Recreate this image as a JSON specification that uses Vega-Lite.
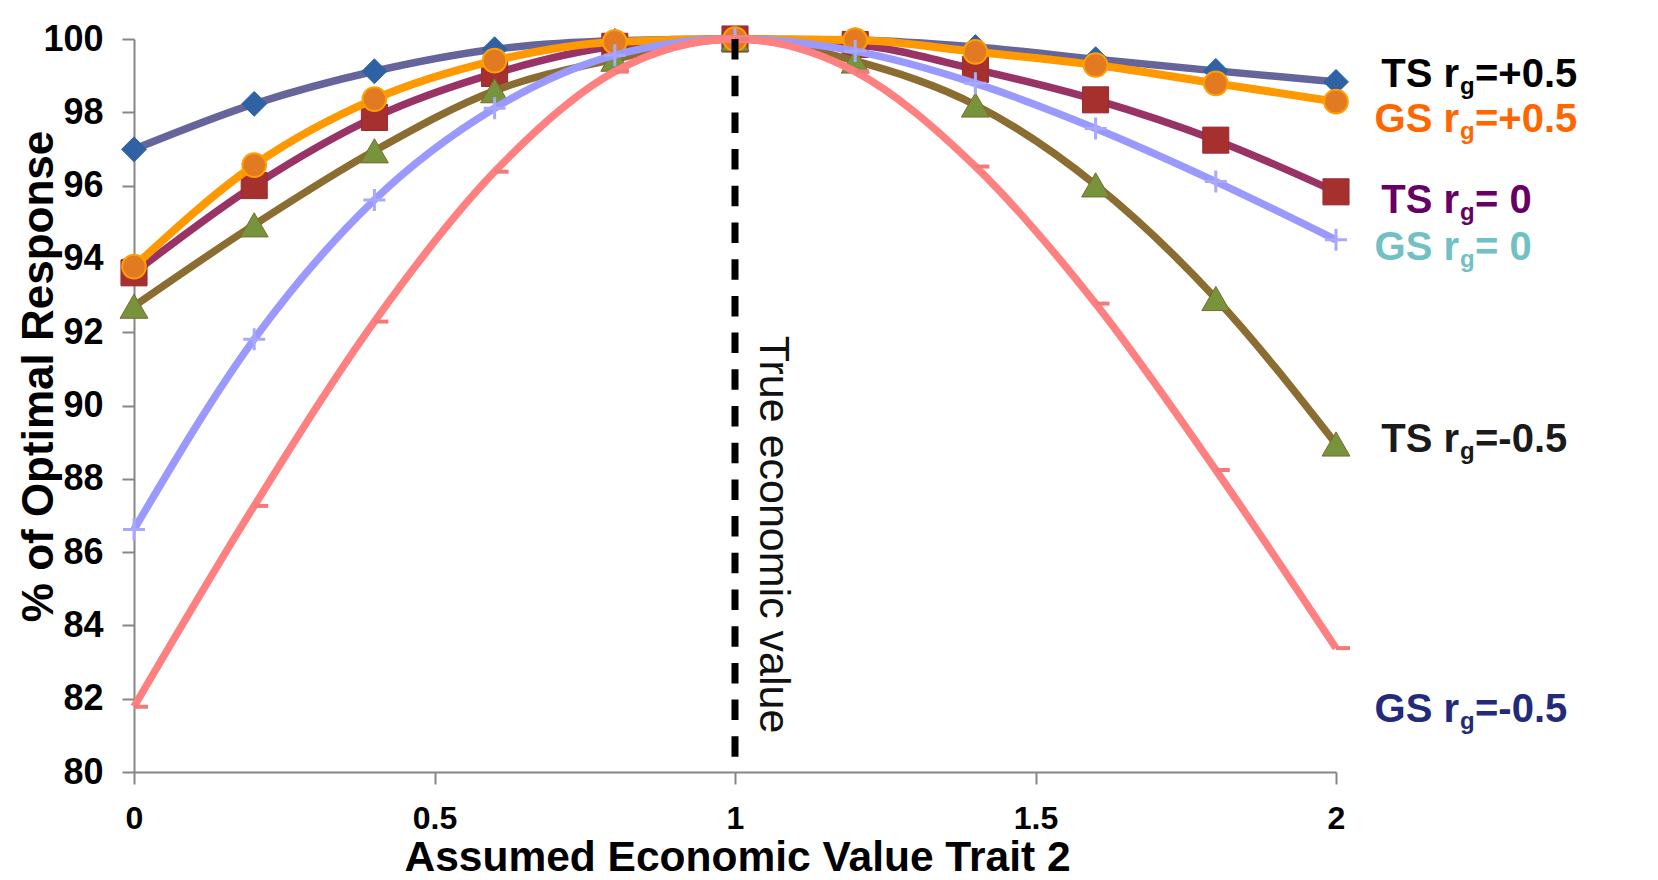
{
  "$schema": "https://vega.github.io/schema/vega-lite/v6.json",
  "width": 1202,
  "height": 733,
  "autosize": {"type": "none"},
  "padding": {"left": 134, "top": 39, "right": 322, "bottom": 108},
  "background": "#ffffff",
  "config": {
    "view": {"stroke": null},
    "font": "Liberation Sans",
    "axis": {
      "grid": false,
      "domainColor": "#868686",
      "domainWidth": 2,
      "tickColor": "#868686",
      "tickWidth": 2,
      "tickSize": 12,
      "labelColor": "#000000",
      "labelFont": "Liberation Sans",
      "labelFontWeight": "bold",
      "titleColor": "#000000",
      "titleFont": "Liberation Sans",
      "titleFontWeight": "bold"
    }
  },
  "datasets": {
    "curves": [
      {"series": "TS+0.5", "x": 0, "y": 96.99}, {"series": "TS+0.5", "x": 0.2, "y": 98.23}, {"series": "TS+0.5", "x": 0.4, "y": 99.12}, {"series": "TS+0.5", "x": 0.6, "y": 99.72}, {"series": "TS+0.5", "x": 0.8, "y": 99.95}, {"series": "TS+0.5", "x": 1, "y": 100}, {"series": "TS+0.5", "x": 1.2, "y": 99.97}, {"series": "TS+0.5", "x": 1.4, "y": 99.78}, {"series": "TS+0.5", "x": 1.6, "y": 99.45}, {"series": "TS+0.5", "x": 1.8, "y": 99.13}, {"series": "TS+0.5", "x": 2, "y": 98.83},
      {"series": "TS0", "x": 0, "y": 93.62}, {"series": "TS0", "x": 0.2, "y": 96.0}, {"series": "TS0", "x": 0.4, "y": 97.86}, {"series": "TS0", "x": 0.6, "y": 99.06}, {"series": "TS0", "x": 0.8, "y": 99.8}, {"series": "TS0", "x": 1, "y": 100}, {"series": "TS0", "x": 1.2, "y": 99.85}, {"series": "TS0", "x": 1.4, "y": 99.17}, {"series": "TS0", "x": 1.6, "y": 98.34}, {"series": "TS0", "x": 1.8, "y": 97.24}, {"series": "TS0", "x": 2, "y": 95.83},
      {"series": "TS-0.5", "x": 0, "y": 92.71}, {"series": "TS-0.5", "x": 0.2, "y": 94.93}, {"series": "TS-0.5", "x": 0.4, "y": 96.95}, {"series": "TS-0.5", "x": 0.6, "y": 98.59}, {"series": "TS-0.5", "x": 0.8, "y": 99.45}, {"series": "TS-0.5", "x": 1, "y": 100}, {"series": "TS-0.5", "x": 1.2, "y": 99.4}, {"series": "TS-0.5", "x": 1.4, "y": 98.2}, {"series": "TS-0.5", "x": 1.6, "y": 96.02}, {"series": "TS-0.5", "x": 1.8, "y": 92.92}, {"series": "TS-0.5", "x": 2, "y": 88.95},
      {"series": "GS+0.5", "x": 0, "y": 93.79}, {"series": "GS+0.5", "x": 0.2, "y": 96.56}, {"series": "GS+0.5", "x": 0.4, "y": 98.36}, {"series": "GS+0.5", "x": 0.6, "y": 99.41}, {"series": "GS+0.5", "x": 0.8, "y": 99.92}, {"series": "GS+0.5", "x": 1, "y": 100}, {"series": "GS+0.5", "x": 1.2, "y": 99.97}, {"series": "GS+0.5", "x": 1.4, "y": 99.65}, {"series": "GS+0.5", "x": 1.6, "y": 99.29}, {"series": "GS+0.5", "x": 1.8, "y": 98.79}, {"series": "GS+0.5", "x": 2, "y": 98.29},
      {"series": "GS0", "x": 0, "y": 86.62}, {"series": "GS0", "x": 0.2, "y": 91.81}, {"series": "GS0", "x": 0.4, "y": 95.61}, {"series": "GS0", "x": 0.6, "y": 98.11}, {"series": "GS0", "x": 0.8, "y": 99.56}, {"series": "GS0", "x": 1, "y": 100}, {"series": "GS0", "x": 1.2, "y": 99.67}, {"series": "GS0", "x": 1.4, "y": 98.79}, {"series": "GS0", "x": 1.6, "y": 97.56}, {"series": "GS0", "x": 1.8, "y": 96.11}, {"series": "GS0", "x": 2, "y": 94.52},
      {"series": "GS-0.5", "x": 0, "y": 81.78}, {"series": "GS-0.5", "x": 0.2, "y": 87.26}, {"series": "GS-0.5", "x": 0.4, "y": 92.29}, {"series": "GS-0.5", "x": 0.6, "y": 96.38}, {"series": "GS-0.5", "x": 0.8, "y": 99.11}, {"series": "GS-0.5", "x": 1, "y": 100}, {"series": "GS-0.5", "x": 1.2, "y": 99.11}, {"series": "GS-0.5", "x": 1.4, "y": 96.52}, {"series": "GS-0.5", "x": 1.6, "y": 92.78}, {"series": "GS-0.5", "x": 1.8, "y": 88.24}, {"series": "GS-0.5", "x": 2, "y": 83.38}
    ],
    "labels": [
      {"series": "TS+0.5", "pre": "TS r", "post": "=+0.5", "x": 2, "y": 98.7},
      {"series": "GS+0.5", "pre": "GS r", "post": "=+0.5", "x": 2, "y": 97.47},
      {"series": "TS0", "pre": "TS r", "post": "= 0", "x": 2, "y": 95.25},
      {"series": "GS0", "pre": "GS r", "post": "= 0", "x": 2, "y": 93.97},
      {"series": "TS-0.5", "pre": "TS r", "post": "=-0.5", "x": 2, "y": 88.74},
      {"series": "GS-0.5", "pre": "GS r", "post": "=-0.5", "x": 2, "y": 81.37}
    ],
    "marker": [
      {"label": "True economic value", "x": 1, "y": 100, "y_end": 80, "text_y": 91.9}
    ]
  },
  "layer": [
    {"data": {"name": "curves"},
     "transform": [{"filter": {"field": "series", "equal": "TS+0.5"}}],
     "mark": {"type": "line", "interpolate": "monotone", "stroke": "#65659C", "strokeWidth": 7.5, "strokeJoin": "round"},
     "encoding": {
       "x": {
         "field": "x", "type": "quantitative",
         "scale": {"domain": [0, 2], "nice": false, "zero": false},
         "axis": {
           "values": [0, 0.5, 1, 1.5, 2], "format": "~g",
           "title": "Assumed Economic Value Trait 2",
           "labelFontSize": 32, "labelPadding": 19, "labelFlush": false,
           "titleFontSize": 42.5, "titleBaseline": "alphabetic", "titleAlign": "center",
           "titleX": 603, "titleY": 98
         }
       },
       "y": {
         "field": "y", "type": "quantitative",
         "scale": {"domain": [80, 100], "nice": false, "zero": false},
         "axis": {
           "values": [80, 82, 84, 86, 88, 90, 92, 94, 96, 98, 100],
           "title": "% of Optimal Response",
           "labelFontSize": 36, "labelPadding": 19,
           "titleFontSize": 44, "titleBaseline": "alphabetic", "titleAlign": "center",
           "titleX": -82, "titleY": 337
         }
       }
     }},
    {"data": {"name": "curves"},
     "transform": [{"filter": {"field": "series", "equal": "TS+0.5"}}],
     "mark": {"type": "point", "shape": "diamond", "filled": true, "fill": "#2E62A4", "stroke": "#2E62A4", "strokeWidth": 1, "size": 620, "opacity": 1},
     "encoding": {"x": {"field": "x", "type": "quantitative"}, "y": {"field": "y", "type": "quantitative"}}},
    {"data": {"name": "curves"},
     "transform": [{"filter": {"field": "series", "equal": "TS0"}}],
     "mark": {"type": "line", "interpolate": "monotone", "stroke": "#993366", "strokeWidth": 7.5, "strokeJoin": "round"},
     "encoding": {"x": {"field": "x", "type": "quantitative"}, "y": {"field": "y", "type": "quantitative"}}},
    {"data": {"name": "curves"},
     "transform": [{"filter": {"field": "series", "equal": "TS0"}}],
     "mark": {"type": "point", "shape": "square", "filled": true, "fill": "#A6302D", "stroke": "#9A2A35", "strokeWidth": 1, "size": 680, "opacity": 1},
     "encoding": {"x": {"field": "x", "type": "quantitative"}, "y": {"field": "y", "type": "quantitative"}}},
    {"data": {"name": "curves"},
     "transform": [{"filter": {"field": "series", "equal": "TS-0.5"}}],
     "mark": {"type": "line", "interpolate": "monotone", "stroke": "#8C6D31", "strokeWidth": 7.5, "strokeJoin": "round"},
     "encoding": {"x": {"field": "x", "type": "quantitative"}, "y": {"field": "y", "type": "quantitative"}}},
    {"data": {"name": "curves"},
     "transform": [{"filter": {"field": "series", "equal": "TS-0.5"}}],
     "mark": {"type": "point", "shape": "triangle-up", "filled": true, "fill": "#77933C", "stroke": "#7A6A30", "strokeWidth": 1, "size": 780, "opacity": 1},
     "encoding": {"x": {"field": "x", "type": "quantitative"}, "y": {"field": "y", "type": "quantitative"}}},
    {"data": {"name": "curves"},
     "transform": [{"filter": {"field": "series", "equal": "GS+0.5"}}],
     "mark": {"type": "line", "interpolate": "monotone", "stroke": "#FF9900", "strokeWidth": 8, "strokeJoin": "round"},
     "encoding": {"x": {"field": "x", "type": "quantitative"}, "y": {"field": "y", "type": "quantitative"}}},
    {"data": {"name": "curves"},
     "transform": [{"filter": {"field": "series", "equal": "GS+0.5"}}],
     "mark": {"type": "point", "shape": "circle", "filled": true, "fill": "#E27A22", "stroke": "#FFA000", "strokeWidth": 2, "size": 560, "opacity": 1},
     "encoding": {"x": {"field": "x", "type": "quantitative"}, "y": {"field": "y", "type": "quantitative"}}},
    {"data": {"name": "curves"},
     "transform": [{"filter": {"field": "series", "equal": "GS0"}}],
     "mark": {"type": "line", "interpolate": "monotone", "stroke": "#9999FF", "strokeWidth": 7.5, "strokeJoin": "round"},
     "encoding": {"x": {"field": "x", "type": "quantitative"}, "y": {"field": "y", "type": "quantitative"}}},
    {"data": {"name": "curves"},
     "transform": [{"filter": {"field": "series", "equal": "GS0"}}],
     "mark": {"type": "point", "shape": "M-1,0H1M0,-1V1", "filled": false, "stroke": "#A8A8FF", "strokeWidth": 3, "size": 484, "opacity": 1},
     "encoding": {"x": {"field": "x", "type": "quantitative"}, "y": {"field": "y", "type": "quantitative"}}},
    {"data": {"name": "curves"},
     "transform": [{"filter": {"field": "series", "equal": "GS-0.5"}}],
     "mark": {"type": "line", "interpolate": "monotone", "stroke": "#FF8080", "strokeWidth": 7.5, "strokeJoin": "round"},
     "encoding": {"x": {"field": "x", "type": "quantitative"}, "y": {"field": "y", "type": "quantitative"}}},
    {"data": {"name": "curves"},
     "transform": [{"filter": {"field": "series", "equal": "GS-0.5"}}],
     "mark": {"type": "point", "shape": "M0,0H1", "filled": false, "stroke": "#F27A7A", "strokeWidth": 4, "size": 784, "opacity": 1},
     "encoding": {"x": {"field": "x", "type": "quantitative"}, "y": {"field": "y", "type": "quantitative"}}},
    {"data": {"name": "marker"},
     "mark": {"type": "rule", "color": "#000000", "strokeWidth": 7, "strokeDash": [20.5, 16.2]},
     "encoding": {
       "x": {"field": "x", "type": "quantitative"},
       "y": {"field": "y", "type": "quantitative"},
       "y2": {"field": "y_end"}
     }},
    {"data": {"name": "marker"},
     "mark": {"type": "text", "angle": 90, "align": "left", "baseline": "alphabetic", "dy": -25, "fontSize": 43, "font": "Liberation Sans", "fontWeight": "normal", "color": "#111111"},
     "encoding": {
       "x": {"field": "x", "type": "quantitative"},
       "y": {"field": "text_y", "type": "quantitative"},
       "text": {"field": "label"}
     }},
    {"data": {"name": "labels"},
     "mark": {"type": "text", "align": "right", "baseline": "alphabetic", "dx": 123, "fontSize": 40, "fontWeight": "bold", "font": "Liberation Sans"},
     "encoding": {
       "x": {"field": "x", "type": "quantitative"},
       "y": {"field": "y", "type": "quantitative"},
       "text": {"field": "pre"},
       "color": {"field": "series", "type": "nominal", "legend": null,
         "scale": {"domain": ["TS+0.5", "GS+0.5", "TS0", "GS0", "TS-0.5", "GS-0.5"], "range": ["#000000", "#FF6600", "#660066", "#70C0C4", "#1A1A1A", "#232A7A"]}}
     }},
    {"data": {"name": "labels"},
     "mark": {"type": "text", "align": "left", "baseline": "alphabetic", "dx": 124, "dy": 7, "fontSize": 24, "fontWeight": "bold", "font": "Liberation Sans", "text": "g"},
     "encoding": {
       "x": {"field": "x", "type": "quantitative"},
       "y": {"field": "y", "type": "quantitative"},
       "color": {"field": "series", "type": "nominal", "legend": null,
         "scale": {"domain": ["TS+0.5", "GS+0.5", "TS0", "GS0", "TS-0.5", "GS-0.5"], "range": ["#000000", "#FF6600", "#660066", "#70C0C4", "#1A1A1A", "#232A7A"]}}
     }},
    {"data": {"name": "labels"},
     "mark": {"type": "text", "align": "left", "baseline": "alphabetic", "dx": 139, "fontSize": 40, "fontWeight": "bold", "font": "Liberation Sans"},
     "encoding": {
       "x": {"field": "x", "type": "quantitative"},
       "y": {"field": "y", "type": "quantitative"},
       "text": {"field": "post"},
       "color": {"field": "series", "type": "nominal", "legend": null,
         "scale": {"domain": ["TS+0.5", "GS+0.5", "TS0", "GS0", "TS-0.5", "GS-0.5"], "range": ["#000000", "#FF6600", "#660066", "#70C0C4", "#1A1A1A", "#232A7A"]}}
     }}
  ]
}
